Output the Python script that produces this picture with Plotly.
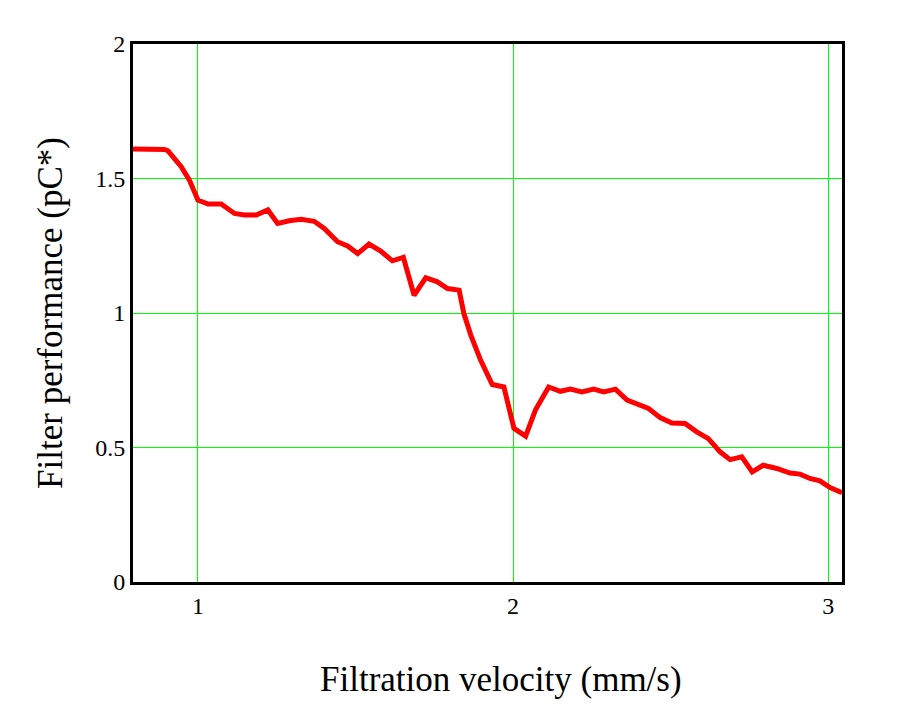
import plotly.graph_objects as go

velocity = [0.794, 0.830, 0.865, 0.894, 0.905, 0.931, 0.947, 0.973, 0.984, 1.000,
            1.032, 1.074, 1.116, 1.148, 1.185, 1.222, 1.253, 1.290, 1.327, 1.369,
            1.401, 1.443, 1.475, 1.507, 1.543, 1.580, 1.617, 1.652, 1.686, 1.723,
            1.760, 1.792, 1.829, 1.844, 1.866, 1.897, 1.934, 1.971, 2.003, 2.040,
            2.071, 2.113, 2.150, 2.182, 2.219, 2.256, 2.288, 2.325, 2.362, 2.393,
            2.430, 2.467, 2.504, 2.546, 2.583, 2.620, 2.657, 2.689, 2.726, 2.759,
            2.794, 2.837, 2.879, 2.911, 2.942, 2.974, 3.006, 3.044]
performance = [1.610, 1.610, 1.610, 1.608, 1.603, 1.562, 1.544, 1.494, 1.463, 1.420,
               1.405, 1.405, 1.370, 1.364, 1.364, 1.383, 1.333, 1.343, 1.348, 1.341,
               1.314, 1.265, 1.249, 1.221, 1.256, 1.230, 1.194, 1.207, 1.066, 1.131,
               1.116, 1.091, 1.085, 0.998, 0.918, 0.825, 0.734, 0.725, 0.571, 0.542,
               0.639, 0.725, 0.709, 0.717, 0.707, 0.717, 0.707, 0.717, 0.676, 0.660,
               0.645, 0.611, 0.591, 0.589, 0.558, 0.533, 0.484, 0.455, 0.465, 0.409,
               0.434, 0.422, 0.405, 0.401, 0.385, 0.376, 0.351, 0.332]

x_ticks = [1, 2, 3]
x_tick_labels = ["1", "2", "3"]
y_ticks = [0, 0.5, 1, 1.5, 2]
y_tick_labels = ["0", "0.5", "1", "1.5", "2"]
x_title = "Filtration velocity (mm/s)"
y_title = "Filter performance (pC*)"

font_family = "Liberation Serif, Times New Roman, serif"

fig = go.Figure()
fig.add_trace(go.Scatter(
    x=velocity, y=performance, mode="lines",
    line=dict(color="#FF0000", width=5),
    showlegend=False,
))

fig.update_layout(
    width=895, height=705,
    margin=dict(l=125, r=61, t=36, b=131),
    paper_bgcolor="white", plot_bgcolor="white",
    font=dict(family=font_family, color="black", size=24),
    xaxis=dict(
        range=[0.794, 3.044], tickvals=x_ticks, ticktext=x_tick_labels,
        showgrid=True, gridcolor="#00FF00", gridwidth=1,
        showline=True, linecolor="black", linewidth=3, mirror=True,
        ticks="", zeroline=False,
        tickfont=dict(size=24),
    ),
    yaxis=dict(
        range=[0, 2], tickvals=y_ticks, ticktext=y_tick_labels,
        showgrid=True, gridcolor="#00FF00", gridwidth=1,
        showline=True, linecolor="black", linewidth=3, mirror=True,
        ticks="", zeroline=False,
        tickfont=dict(size=24),
        title=dict(text=y_title, font=dict(size=35), standoff=22),
    ),
    annotations=[dict(
        text=x_title, xref="paper", yref="paper", x=0.519, y=-0.182,
        xanchor="center", yanchor="middle", showarrow=False,
        font=dict(size=35, family=font_family, color="black"),
    )],
)

fig.write_html("out.html")
